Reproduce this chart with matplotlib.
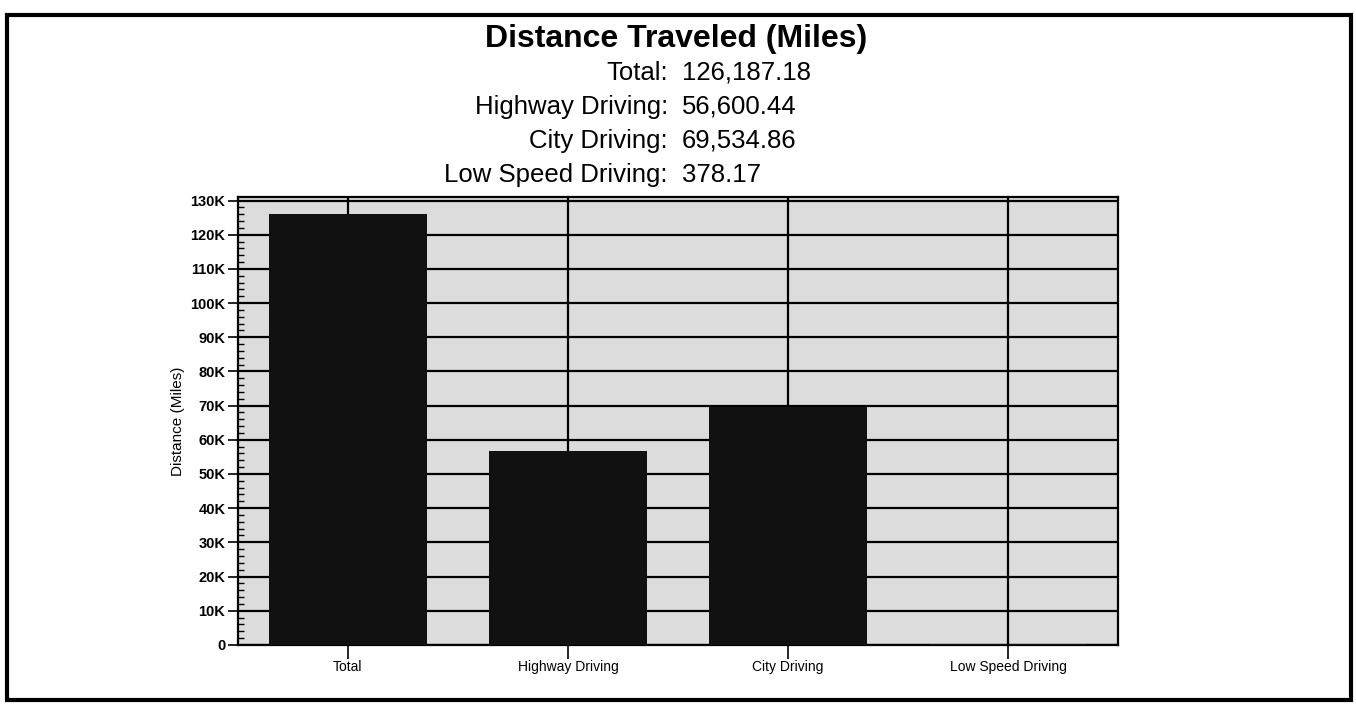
import matplotlib.pyplot as plt
from matplotlib.patches import Rectangle
from matplotlib.ticker import MultipleLocator, FuncFormatter

categories = ['Total', 'Highway Driving', 'City Driving', 'Low Speed Driving']
distances = [126187.18, 56600.44, 69534.86, 378.17]
summary_labels = ['Total:', 'Highway Driving:', 'City Driving:', 'Low Speed Driving:']
summary_values = ['126,187.18', '56,600.44', '69,534.86', '378.17']

plt.rcParams['font.family'] = ['Liberation Sans', 'DejaVu Sans']

fig = plt.figure(figsize=(13.56, 7.04), dpi=100)
ax = fig.add_axes([0.1755, 0.084, 0.649, 0.636])

ax.set_facecolor('#dcdcdc')
ax.bar(range(len(categories)), distances, width=0.72, color='#111111', zorder=3)
ax.set_xlim(-0.5, 3.5)
ax.set_ylim(0, 131000)

ax.yaxis.set_major_locator(MultipleLocator(10000))
ax.yaxis.set_minor_locator(MultipleLocator(2000))
ax.yaxis.set_major_formatter(FuncFormatter(lambda v, p: '0' if v == 0 else f'{int(v / 1000)}K'))
ax.set_xticks(range(len(categories)))
ax.set_xticklabels(categories, fontsize=10)
ax.tick_params(axis='y', which='major', direction='out', length=7, width=1.2,
               labelsize=10.5, pad=2)
ax.tick_params(axis='y', which='minor', direction='in', length=4, width=1)
ax.tick_params(axis='x', direction='out', length=10, width=1.2, pad=1)
for lbl in ax.get_yticklabels():
    lbl.set_fontweight('bold')

ax.set_axisbelow(True)
ax.grid(True, which='major', color='black', linewidth=1.6)
for s in ax.spines.values():
    s.set_linewidth(1.6)
ax.set_ylabel('Distance (Miles)', fontsize=11, labelpad=4)

fig.text(0.4985, 0.933, 'Distance Traveled (Miles)', ha='center', va='baseline',
         fontsize=23, fontweight='bold')
for i, (lab, val) in enumerate(zip(summary_labels, summary_values)):
    y = 0.8864 - i * 0.0483
    fig.text(0.4926, y, lab, ha='right', va='baseline', fontsize=18.5)
    fig.text(0.503, y, val, ha='left', va='baseline', fontsize=18.5)

fig.patches.append(Rectangle((0.005, 0.006), 0.991, 0.973, transform=fig.transFigure,
                             fill=False, edgecolor='black', linewidth=3))

fig.savefig('out.png', dpi=100)
